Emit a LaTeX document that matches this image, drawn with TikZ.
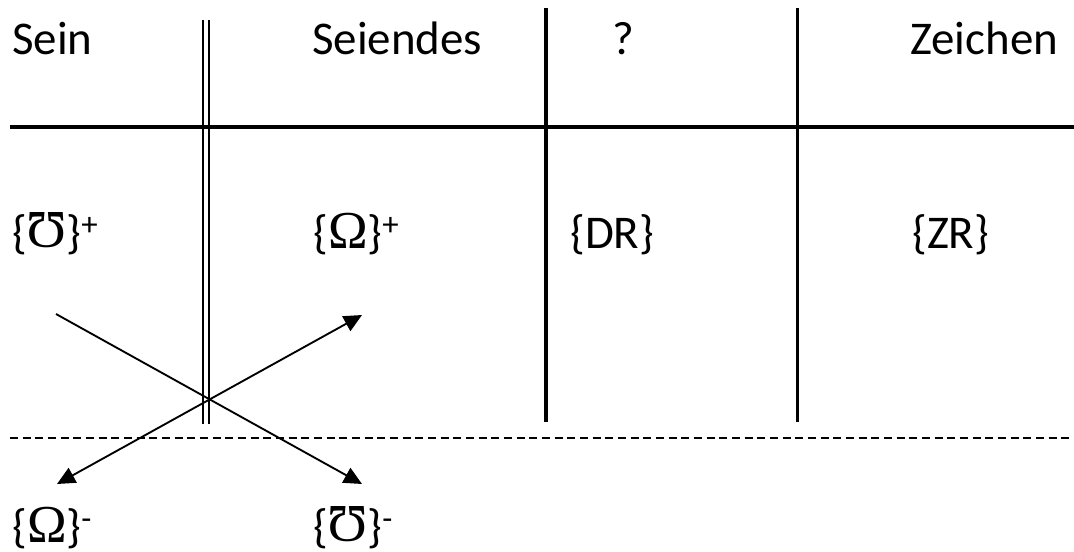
\documentclass[tikz,border=0pt]{standalone}
\usepackage{fontspec}
\setmainfont{Carlito}
\newfontfamily\greekfont{Liberation Serif}
\usetikzlibrary{arrows.meta}

\newcommand{\omegasym}{{\greekfont\fontsize{40}{44}\selectfont Ω}}
\newcommand{\invomega}{\rotatebox[origin=c]{180}{\omegasym}}

\tikzset{
  lbl/.style={anchor=base west, inner sep=0pt, font=\fontsize{35.2}{42}\selectfont},
  rule/.style={line width=3pt},
  cross/.style={line width=1.4pt},
  tip/.style={-{Triangle[length=13.5pt,width=12.5pt]}},
  tips/.style={{Triangle[length=13.5pt,width=12.5pt]}-{Triangle[length=13.5pt,width=12.5pt]}},
}

\begin{document}
\begin{tikzpicture}[x=0.75pt,y=0.75pt,yscale=-1,xscale=1]
\useasboundingbox (0,0) rectangle (1074,552);

% Column heads
\node [lbl] (sein) at (12,55) {Sein};
\node [lbl] (seiendes) at (312,55) {Seiendes};
\node [lbl] (frage) at (612,55) {?};
\node [lbl] (zeichen) at (910,55) {Zeichen};

% Table rules
\draw [rule] (10,127) -- (1074,127);
\draw [line width=1.4pt] (203.3,20) -- (203.3,424) (209.3,20) -- (209.3,424);
\draw [rule] (546,8) -- (546,422);
\draw [line width=2.3pt] (797.5,8) -- (797.5,422);
\draw [line width=1.1pt, dash pattern=on 6pt off 3.5pt] (10,438) -- (1074,438);

% Entries
\node [lbl] (mhoplus) at (12,248) {\{\invomega\}\textsuperscript{+}};
\node [lbl] (omegaplus) at (313,248) {\{\omegasym\}\textsuperscript{+}};
\node [lbl] (dr) at (570,248) {\{DR\}};
\node [lbl] (zr) at (912,248) {\{ZR\}};
\node [lbl] (omegaminus) at (12,542) {\{\omegasym\}\textsuperscript{-}};
\node [lbl] (mhominus) at (313,542) {\{\invomega\}\textsuperscript{-}};

% Crossing arrows
\coordinate (a1) at (56,314);
\coordinate (b1) at (362,484);
\coordinate (a2) at (57,484);
\coordinate (b2) at (362,315);
\draw [cross, tip] (a1) -- (b1);
\draw [cross, tips] (a2) -- (b2);

\end{tikzpicture}
\end{document}
